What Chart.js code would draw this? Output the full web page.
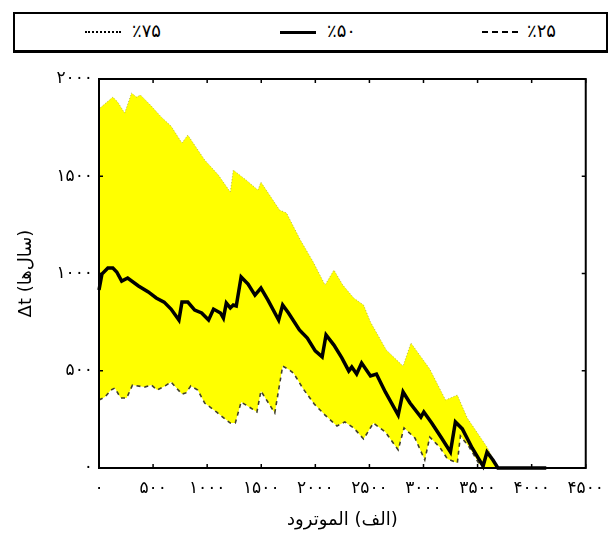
<!DOCTYPE html>
<html>
<head>
<meta charset="utf-8">
<script src="https://cdn.jsdelivr.net/npm/chart.js@4/dist/chart.umd.min.js"></script>
<style>
  html, body { margin: 0; padding: 0; background: #fff; }
  #wrap { position: relative; width: 614px; height: 539px; }
  #chart { position: absolute; left: 0; top: 0; }
  #legend {
    position: absolute; left: 13px; top: 12px; width: 591px; height: 36px;
    border: 2px solid #000; border-bottom-width: 3px; background: #fff;
    font-family: "DejaVu Sans", sans-serif; font-size: 18px; color: #000; direction: ltr;
  }
  .sample { position: absolute; top: 17px; width: 36px; height: 0; border-top-color: #000; }
  .txt { position: absolute; top: 6px; white-space: nowrap; }
</style>
</head>
<body>
<div id="wrap">
  <canvas id="chart" width="614" height="539"></canvas>
  <div id="legend"></div>
</div>
<script>
// Upper band edge (75th percentile)
const upperX = [0, 9, 128, 173, 237, 301, 347, 383, 484, 575, 666, 767, 821, 977, 1104, 1214, 1241, 1360, 1469, 1497, 1670, 1734, 1862, 1981, 2090, 2172, 2254, 2355, 2446, 2510, 2656, 2811, 2884, 3058, 3204, 3313, 3405, 3587, 3688, 4135];
const upperY = [1840, 1851, 1907, 1882, 1825, 1928, 1907, 1918, 1861, 1805, 1758, 1671, 1712, 1584, 1506, 1419, 1532, 1481, 1429, 1470, 1326, 1311, 1172, 1059, 941, 1018, 941, 874, 838, 751, 607, 524, 643, 509, 350, 375, 257, 108, 0, 0];

// Median (50th percentile)
const medianX = [0, 27, 82, 128, 164, 210, 265, 365, 456, 529, 602, 666, 739, 767, 821, 885, 949, 1013, 1059, 1123, 1150, 1177, 1214, 1241, 1269, 1314, 1378, 1442, 1497, 1561, 1661, 1698, 1752, 1853, 1926, 1999, 2063, 2099, 2172, 2245, 2309, 2337, 2382, 2428, 2510, 2565, 2647, 2766, 2811, 2875, 2976, 3003, 3076, 3167, 3249, 3295, 3359, 3450, 3551, 3587, 3642, 3688, 4135];
const medianY = [915, 997, 1028, 1028, 1008, 961, 977, 936, 905, 874, 853, 817, 761, 853, 853, 812, 797, 761, 817, 797, 771, 848, 823, 838, 833, 982, 946, 889, 925, 864, 761, 838, 797, 710, 668, 602, 571, 684, 632, 566, 499, 519, 483, 540, 473, 483, 391, 272, 391, 334, 262, 288, 231, 154, 82, 237, 201, 103, 10, 82, 41, 0, 0];

// Lower band edge (25th percentile)
const lowerX = [0, 55, 110, 146, 201, 256, 310, 420, 484, 538, 612, 666, 767, 803, 849, 913, 977, 1086, 1214, 1260, 1314, 1387, 1460, 1497, 1543, 1625, 1698, 1762, 1798, 1889, 1990, 2090, 2200, 2273, 2355, 2446, 2537, 2647, 2766, 2820, 2921, 3012, 3058, 3149, 3222, 3313, 3341, 3423, 3514, 3569, 4135];
const lowerY = [350, 365, 401, 411, 360, 360, 427, 416, 427, 401, 422, 442, 380, 386, 422, 401, 334, 288, 231, 231, 339, 314, 288, 396, 355, 283, 524, 504, 488, 406, 329, 272, 216, 237, 206, 149, 231, 185, 93, 206, 154, 41, 159, 108, 46, 26, 165, 108, 21, 0, 0];

// Axis ticks
const xTicks = [0, 500, 1000, 1500, 2000, 2500, 3000, 3500, 4000, 4500];
const yTicks = [0, 500, 1000, 1500, 2000];

const legendItems = [
  { text: '٪۷۵', style: 'dotted', width: 2, sampleLeft: 70, textLeft: 117 },
  { text: '٪۵۰', style: 'solid', width: 3, sampleLeft: 265, textLeft: 312 },
  { text: '٪۲۵', style: 'dashed', width: 2, sampleLeft: 467, textLeft: 512 }
];

const faDigits = '۰۱۲۳۴۵۶۷۸۹';
const toFa = v => String(v).replace(/\d/g, d => faDigits[d]);
const pts = (xs, ys) => xs.map((x, i) => ({ x: x, y: ys[i] }));

// Legend box
const legend = document.getElementById('legend');
legendItems.forEach(it => {
  const s = document.createElement('div');
  s.className = 'sample';
  s.style.left = it.sampleLeft + 'px';
  s.style.borderTopStyle = it.style;
  s.style.borderTopWidth = it.width + 'px';
  legend.appendChild(s);
  const t = document.createElement('div');
  t.className = 'txt';
  t.style.left = it.textLeft + 'px';
  t.textContent = it.text;
  legend.appendChild(t);
});

// Box frame with inward tick marks on all four sides
const framePlugin = {
  id: 'frame',
  afterDraw(chart) {
    const { ctx, chartArea: a, scales } = chart;
    ctx.save();
    ctx.strokeStyle = '#000';
    ctx.lineWidth = 2;
    ctx.strokeRect(a.left, a.top, a.right - a.left, a.bottom - a.top);
    ctx.lineWidth = 1.5;
    ctx.beginPath();
    xTicks.forEach(v => {
      const px = scales.x.getPixelForValue(v);
      ctx.moveTo(px, a.bottom); ctx.lineTo(px, a.bottom - 4);
      ctx.moveTo(px, a.top); ctx.lineTo(px, a.top + 4);
    });
    yTicks.forEach(v => {
      const py = scales.y.getPixelForValue(v);
      ctx.moveTo(a.left, py); ctx.lineTo(a.left + 4, py);
      ctx.moveTo(a.right, py); ctx.lineTo(a.right - 4, py);
    });
    ctx.stroke();
    ctx.restore();
  }
};

new Chart(document.getElementById('chart'), {
  type: 'line',
  data: {
    datasets: [
      {
        label: '٪۵۰', data: pts(medianX, medianY),
        borderColor: '#000', borderWidth: 3.5, fill: false, clip: 4
      },
      {
        label: '٪۲۵', data: pts(lowerX, lowerY),
        borderColor: '#403f2c', borderWidth: 1.6, borderDash: [4, 4], fill: false
      },
      {
        label: '٪۷۵', data: pts(upperX, upperY),
        borderColor: 'rgba(120,120,50,0.55)', borderWidth: 1, borderDash: [1, 2],
        backgroundColor: '#ffff00', fill: { target: 1 }
      }
    ]
  },
  options: {
    responsive: false,
    animation: false,
    devicePixelRatio: 1,
    layout: { padding: { top: 79, right: 22, left: 0, bottom: 0 } },
    elements: { point: { radius: 0 }, line: { tension: 0 } },
    plugins: { legend: { display: false }, tooltip: { enabled: false } },
    scales: {
      x: {
        type: 'linear', min: 0, max: 4500,
        afterBuildTicks: s => { s.ticks = xTicks.map(v => ({ value: v })); },
        afterFit: s => { s.height = 71; },
        grid: { display: false, drawTicks: false },
        border: { display: false },
        ticks: {
          padding: 10, maxRotation: 0, autoSkip: false, color: '#000',
          font: { family: 'DejaVu Sans', size: 17 },
          callback: v => toFa(v)
        },
        title: {
          display: true, text: '\u200F(الف) الموترود\u200F', color: '#000',
          font: { family: 'DejaVu Sans', size: 18 },
          padding: { top: 0, bottom: 8 }
        }
      },
      y: {
        min: 0, max: 2000,
        afterBuildTicks: s => { s.ticks = yTicks.map(v => ({ value: v })); },
        afterFit: s => { s.width = 99; },
        grid: { display: false, drawTicks: false },
        border: { display: false },
        ticks: {
          padding: 6, autoSkip: false, color: '#000',
          font: { family: 'DejaVu Sans', size: 17 },
          callback: v => toFa(v)
        },
        title: {
          display: true, text: 'Δt (سال‌ها)', color: '#000',
          font: { family: 'DejaVu Sans', size: 18 },
          padding: { top: 16, bottom: 0 }
        }
      }
    }
  },
  plugins: [framePlugin]
});
</script>
</body>
</html>
